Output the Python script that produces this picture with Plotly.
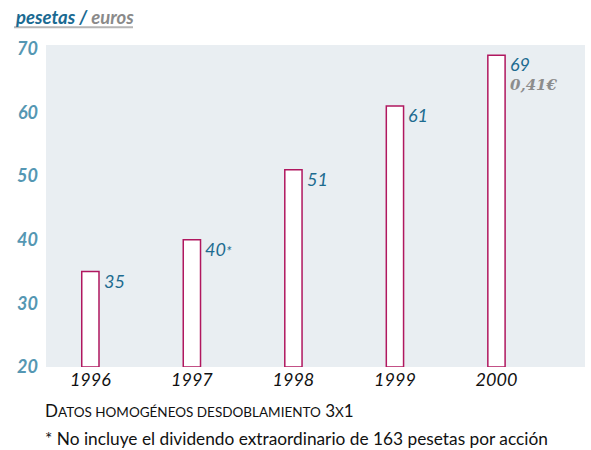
import plotly.graph_objects as go

years = ["1996", "1997", "1998", "1999", "2000"]
values = [35, 40, 51, 61, 69]
value_labels = ["35", "40<span style='font-size:14px'>*</span>", "51", "61", "69"]
euro_label = "0,41€"
y_ticks = [20, 30, 40, 50, 60, 70]

xs = list(range(len(years)))

fig = go.Figure()
fig.add_trace(go.Bar(
    x=xs, y=[v - 20 for v in values], base=20, width=0.17,
    marker=dict(color="white", line=dict(color="#b0175f", width=1.5)),
    hoverinfo="skip", showlegend=False,
))

annotations = []
for i, (v, lab) in enumerate(zip(values, value_labels)):
    annotations.append(dict(
        x=i + 0.11, y=v + 0.6, xref="x", yref="y", text="<i>" + lab + "</i>",
        xanchor="left", yanchor="top", showarrow=False,
        font=dict(family="Lato", size=18, color="#1d6b90"),
    ))
annotations.append(dict(
    x=4 + 0.11, y=values[4] - 3.0, xref="x", yref="y", text="<b><i>" + euro_label + "</i></b>",
    xanchor="left", yanchor="top", showarrow=False,
    font=dict(family="DejaVu Serif", size=15, color="#8c8c8c"),
))

annotations.append(dict(
    x=-0.062, y=1.088, xref="paper", yref="paper", xanchor="left", yanchor="middle",
    text="<b><i><span style='color:#1a6a92'>pesetas</span> <span style='color:#1a6a92'>/</span> <span style='color:#8a8a8a'>euros</span></i></b>",
    showarrow=False, font=dict(family="Lato", size=18.5),
))
annotations.append(dict(
    x=-0.006, y=-0.134, xref="paper", yref="paper", xanchor="left", yanchor="middle",
    text="D<span style='font-size:13.5px'>ATOS HOMOGÉNEOS DESDOBLAMIENTO</span> 3<span style='font-size:13.5px'>X</span>1",
    showarrow=False, font=dict(family="Lato", size=17, color="#111111"),
))
annotations.append(dict(
    x=-0.006, y=-0.221, xref="paper", yref="paper", xanchor="left", yanchor="middle",
    text="* No incluye el dividendo extraordinario de 163 pesetas por acción",
    showarrow=False, font=dict(family="Lato", size=17.3, color="#111111"),
))

fig.add_shape(type="line", xref="paper", yref="paper",
              x0=-0.0594, x1=0.1614, y0=1.055, y1=1.055,
              line=dict(color="#b5b5b5", width=2))

fig.update_layout(
    width=591, height=450,
    margin=dict(l=46, r=6, t=45, b=83),
    paper_bgcolor="white", plot_bgcolor="#e9eef2",
    annotations=annotations,
    xaxis=dict(range=[-0.437, 4.872], tickvals=xs, ticktext=["<i>" + y + "</i>" for y in years],
               showgrid=False, zeroline=False, showline=False, ticks="",
               tickfont=dict(family="Lato", size=18, color="#111111")),
    yaxis=dict(range=[20, 70.6], tickvals=y_ticks, ticktext=["<b><i>%d</i></b>" % t for t in y_ticks],
               showgrid=False, zeroline=False, showline=False, ticks="",
               ticklabelstandoff=7,
               tickfont=dict(family="Lato", size=18, color="#5597b3")),
)

fig.write_html("out.html", config={"displayModeBar": False},
               post_script="document.body.style.margin='0';")
